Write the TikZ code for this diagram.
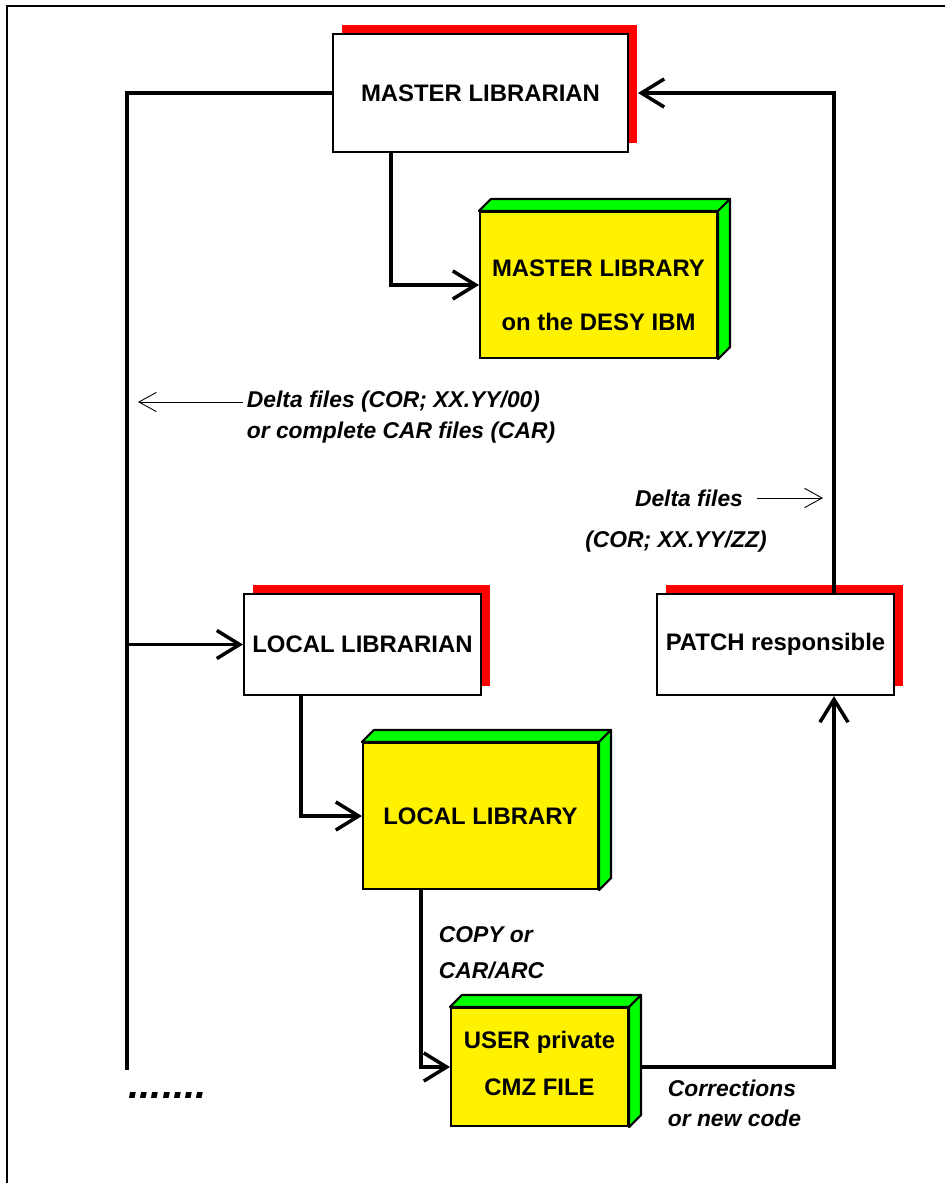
\documentclass[tikz,border=0pt]{standalone}
\usepackage{fontspec}
\setmainfont{Liberation Sans}
\usepackage{tikz}
\usetikzlibrary{arrows.meta,shadows}

\begin{document}
\begin{tikzpicture}[x=0.02cm, y=-0.02cm,
    person/.style={draw, line width=1.2pt, fill=white, font=\fontsize{13.6}{16}\selectfont\bfseries,
        drop shadow={shadow xshift=0.18cm, shadow yshift=0.18cm, fill=red, opacity=1}},
    store/.style={draw, line width=1.2pt, fill=yellow, align=center, font=\fontsize{13.6}{30.6}\selectfont\bfseries},
    face/.style={draw, line width=1.2pt, fill=green, line join=round},
    flow/.style={line width=2pt, -{Straight Barb[length=13pt, width=16pt]}},
    hint/.style={line width=0.5pt, -{Straight Barb[length=10pt, width=11pt]}},
    note/.style={font=\fontsize{13}{16}\selectfont\bfseries\itshape, inner sep=2pt}]
    \useasboundingbox (0,0) rectangle (945,1183);
    \draw[line width=1pt] (7,1183) -- (7,6) -- (945,6);

    % people
    \node[person, minimum width=5.9cm,  minimum height=2.36cm] (mla)   at (480.5,93)    {MASTER LIBRARIAN};
    \node[person, minimum width=4.74cm, minimum height=2.02cm] (lan)   at (362.5,644.5) {LOCAL LIBRARIAN};
    \node[person, minimum width=4.74cm, minimum height=2.02cm] (patch) at (775.5,644.5) {PATCH responsible};

    % libraries
    \node[store, minimum width=4.74cm, minimum height=2.92cm] (mlib) at (598.5,285) {\rule{0pt}{21pt}MASTER LIBRARY\\on the DESY IBM};
    \node[store, minimum width=4.7cm,  minimum height=2.92cm] (llib) at (480.5,816) {LOCAL LIBRARY};
    \node[store, minimum width=3.54cm, minimum height=2.36cm,
          font=\fontsize{13.6}{26.6}\selectfont\bfseries] (cmz) at (539.5,1067) {USER private\\CMZ FILE\rule[-4pt]{0pt}{0pt}};

    % buses
    \coordinate (lbus) at (127,1070);
    \coordinate (rbus) at (834,93);

    \draw[line width=2pt] (mla.west) -| (lbus);
    \draw[flow] (lbus |- lan.west) -- (lan.west);
    \draw[flow] ([xshift=1.18cm]mla.south west) |- (mlib.west);
    \draw[flow] ([xshift=1.16cm]lan.south west) |- (llib.west);
    \draw[flow] ([xshift=1.18cm]llib.south west) |- (cmz.west);
    \draw[flow, shorten >=0.18cm] (rbus |- patch.north) -- (rbus) -- (mla.east);
    \draw[flow] (cmz.east) -| (rbus |- patch.south);

    % labels
    \node[note, anchor=west] (dl1) at (243,402) {Delta files (COR; XX.YY/00)};
    \node[note, anchor=west] (dl2) at (243,433) {or complete CAR files (CAR)};
    \node[note] (dr1) at (689,498) {Delta files};
    \node[note] (dr2) at (676,542) {(COR; XX.YY/ZZ)};
    \node[note, anchor=west] (copy1) at (435,935)  {COPY or};
    \node[note, anchor=west] (copy2) at (435,970)  {CAR/ARC};
    \node[note, anchor=west] (corr1) at (664,1088) {Corrections};
    \node[note, anchor=west] (corr2) at (664,1118) {or new code};
    \node[font=\fontsize{23}{26}\selectfont\bfseries\itshape, anchor=base west, inner sep=0pt] (more) at (128,1098) {.......};

    \draw[hint, shorten >=0.22cm] (dl1.west) -- (lbus |- dl1.west);
    \draw[hint, shorten <=0.2cm, shorten >=0.22cm] (dr1.east) -- (rbus |- dr1.east);

    % 3d faces
    \foreach \b in {mlib,llib,cmz} {
        \draw[face] (\b.north west) -- ++(12,-12) -- ([shift={(12,-12)}]\b.north east) -- (\b.north east) -- cycle;
        \draw[face] (\b.north east) -- ++(12,-12) -- ([shift={(12,-12)}]\b.south east) -- (\b.south east) -- cycle;
    }
\end{tikzpicture}
\end{document}
